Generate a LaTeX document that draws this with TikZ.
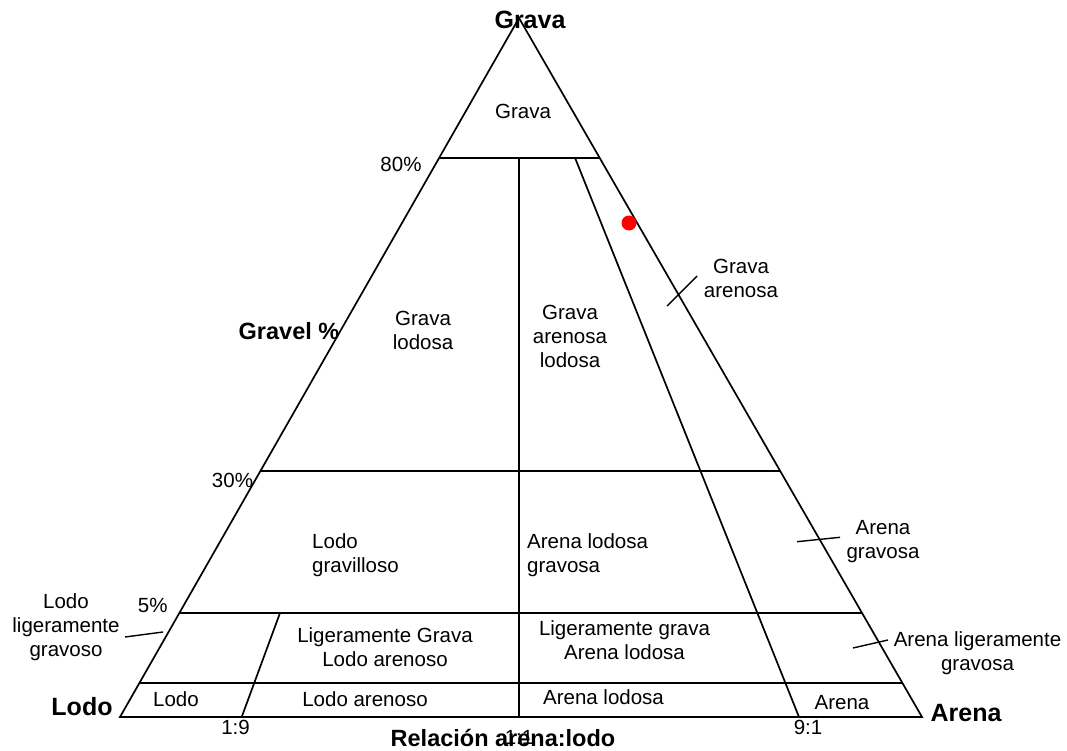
\documentclass[tikz,border=0pt]{standalone}
\usepackage{fontspec}
\setmainfont{Liberation Sans}
\usetikzlibrary{calc}
\begin{document}
\begin{tikzpicture}[x=1pt,y=-1pt,
  edge/.style={line width=1.7pt, line join=miter},
  leader/.style={line width=1.4pt},
  lbl/.style={font=\fontsize{20.5}{24}\selectfont, align=center, inner sep=0pt},
  lblL/.style={lbl, align=left, anchor=west},
  corner/.style={font=\bfseries\fontsize{25}{30}\selectfont, inner sep=0pt},
  axis/.style={font=\bfseries\fontsize{23.5}{28}\selectfont, inner sep=0pt}]
\useasboundingbox (0,0) rectangle (1067,751);

% corners of the ternary triangle
\coordinate (A) at (519,18);
\coordinate (L) at (120,717);
\coordinate (R) at (922,717);

% gravel boundaries (80 %, 30 %, 5 %, trace)
\coordinate (g80l) at ($(L)!0.800!(A)$);
\coordinate (g80r) at ($(R)!0.800!(A)$);
\coordinate (g30l) at ($(L)!0.352!(A)$);
\coordinate (g30r) at ($(R)!0.352!(A)$);
\coordinate (g5l)  at ($(L)!0.149!(A)$);
\coordinate (g5r)  at ($(R)!0.149!(A)$);
\coordinate (g0l)  at ($(L)!0.0486!(A)$);
\coordinate (g0r)  at ($(R)!0.0486!(A)$);

% sand:mud ratio boundaries
\coordinate (m19b) at (241.7,717);
\coordinate (m19t) at (280,613);
\coordinate (m11b) at (519,717);
\coordinate (m11t) at (519,157.8);
\coordinate (m91b) at (799,717);
\coordinate (m91t) at (575,157.8);

% outline and field boundaries
\draw[edge] (A) -- (L) -- (R) -- cycle;
\draw[edge] (g80l) -- (g80r);
\draw[edge] (g30l) -- (g30r);
\draw[edge] (g5l) -- (g5r);
\draw[edge] (g0l) -- (g0r);
\draw[edge] (m11t) -- (m11b);
\draw[edge] (m91t) -- (m91b);
\draw[edge] (m19t) -- (m19b);

% sample point
\fill[red] (629,223) circle (7.5);

% leaders from outside labels
\coordinate (k1a) at (667,306);  \coordinate (k1b) at (697,276);
\coordinate (k2a) at (797,541.7);\coordinate (k2b) at (840,537.3);
\coordinate (k3a) at (853,648);  \coordinate (k3b) at (888,640);
\coordinate (k4a) at (125,637);  \coordinate (k4b) at (163,632);
\draw[leader] (k1a) -- (k1b);
\draw[leader] (k2a) -- (k2b);
\draw[leader] (k3a) -- (k3b);
\draw[leader] (k4a) -- (k4b);

% corner and axis labels
\node[corner] (tG) at (530,20) {Grava};
\node[corner] (tL) at (82,707) {Lodo};
\node[corner] (tR) at (966,713) {Arena};
\node[axis] (ax1) at (289,331) {Gravel \%};
\node[lbl] (p80) at (401,164) {80\%};
\node[lbl] (p30) at (232.5,480) {30\%};
\node[lbl] (p5) at (152.7,605) {5\%};
\node[lbl] (r19) at (235.5,727) {1:9};
\node[lbl] (r11) at (519,737) {1:1};
\node[lbl] (r91) at (808,727) {9:1};
\node[axis] (ax2) at (503,738) {Relación arena:lodo};

% field names
\node[lbl] (f1) at (523,111.7) {Grava};
\node[lbl] (f2) at (423,330.5) {Grava\\lodosa};
\node[lbl] (f3) at (570,336.5) {Grava\\arenosa\\lodosa};
\node[lbl] (f4) at (741,278.5) {Grava\\arenosa};
\node[lblL] (f5) at (312,554.7) {Lodo\\gravilloso};
\node[lblL] (f6) at (527,554.7) {Arena lodosa\\gravosa};
\node[lbl] (f7) at (883,542) {Arena\\gravosa};
\node[lbl] (f8) at (66,627) {Lodo\\ligeramente\\gravoso};
\node[lbl] (f9) at (385,647.5) {Ligeramente Grava\\Lodo arenoso};
\node[lbl] (f10) at (624.5,640.5) {Ligeramente grava\\Arena lodosa};
\node[lbl] (f11) at (977.5,652.7) {Arena ligeramente\\gravosa};
\node[lbl] (f12) at (176,699) {Lodo};
\node[lbl] (f13) at (365,699) {Lodo arenoso};
\node[lbl] (f14) at (603.5,697) {Arena lodosa};
\node[lbl] (f15) at (842,703) {Arena};
\end{tikzpicture}
\end{document}
